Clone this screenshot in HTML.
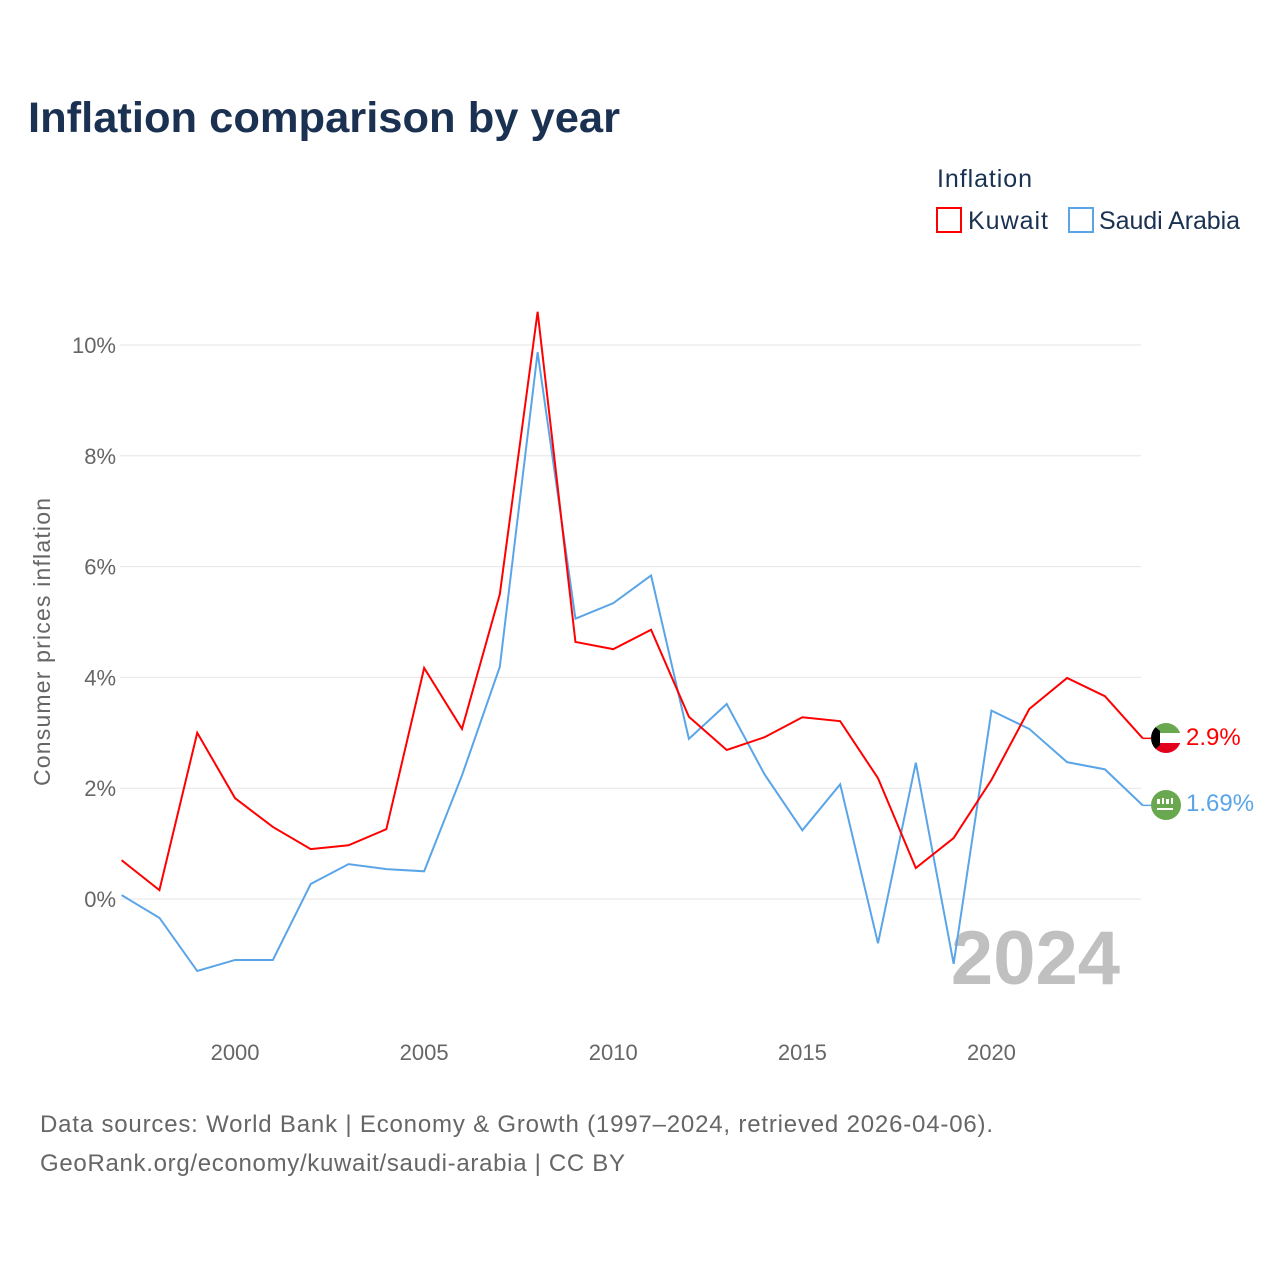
<!DOCTYPE html>
<html><head><meta charset="utf-8"><style>
body{margin:0;background:#fff;font-family:"Liberation Sans",sans-serif;}
svg text{font-family:"Liberation Sans",sans-serif;}
</style></head><body>
<svg id="chart" width="1280" height="1280" xmlns="http://www.w3.org/2000/svg">
<text x="28" y="132" font-size="43" font-weight="bold" fill="#1a3152" textLength="592" lengthAdjust="spacingAndGlyphs">Inflation comparison by year</text>
<text x="937" y="187" font-size="25" fill="#1a3152" textLength="95">Inflation</text>
<g><rect x="937" y="208" width="24" height="24" fill="none" stroke="#ff0000" stroke-width="2"/><text x="968" y="229" font-size="25" fill="#1a3152" textLength="80">Kuwait</text></g>
<g><rect x="1069" y="208" width="24" height="24" fill="none" stroke="#5aa5e8" stroke-width="2"/><text x="1099" y="229" font-size="25" fill="#1a3152" textLength="141">Saudi Arabia</text></g>
<g id="grid"></g>
<text transform="translate(50,642) rotate(-90)" text-anchor="middle" font-size="23" fill="#666" textLength="288">Consumer prices inflation</text>
<text x="1120" y="984" text-anchor="end" font-size="76" font-weight="bold" fill="#c0c0c0">2024</text>
<g id="series"></g>
<g>
<clipPath id="ck"><circle cx="1166" cy="738" r="15"/></clipPath>
<g clip-path="url(#ck)"><rect x="1151" y="723" width="30" height="10" fill="#6aa84f"/><rect x="1151" y="733" width="30" height="10" fill="#fff"/><rect x="1151" y="743" width="30" height="10" fill="#e3001b"/><polygon points="1151,723 1160,731 1160,745 1151,753" fill="#000"/></g></g>
<g><circle cx="1166" cy="805" r="15" fill="#6aa84f"/><rect x="1157" y="799" width="3" height="5" fill="#fff"/><rect x="1162" y="798" width="2" height="6" fill="#fff"/><rect x="1166" y="799" width="3" height="5" fill="#fff"/><rect x="1171" y="798" width="2" height="6" fill="#fff"/><rect x="1157" y="808" width="16" height="2" fill="#fff"/></g>
<text x="1186" y="745" font-size="24" fill="#ff0000">2.9%</text>
<text x="1186" y="811" font-size="24" fill="#5aa5e8">1.69%</text>
<text x="40" y="1132" font-size="24" fill="#666" textLength="953">Data sources: World Bank | Economy &amp; Growth (1997–2024, retrieved 2026-04-06).</text>
<text x="40" y="1171" font-size="24" fill="#666" textLength="585">GeoRank.org/economy/kuwait/saudi-arabia | CC BY</text>
</svg>
<script>
const years=[1997,1998,1999,2000,2001,2002,2003,2004,2005,2006,2007,2008,2009,2010,2011,2012,2013,2014,2015,2016,2017,2018,2019,2020,2021,2022,2023,2024];
const kuwait=[0.70,0.16,3.0,1.82,1.3,0.9,0.97,1.26,4.17,3.07,5.5,10.6,4.64,4.51,4.86,3.29,2.69,2.92,3.28,3.21,2.18,0.56,1.1,2.15,3.43,3.99,3.66,2.9];
const saudi=[0.07,-0.34,-1.3,-1.1,-1.1,0.27,0.63,0.54,0.5,2.23,4.19,9.87,5.06,5.34,5.84,2.89,3.52,2.25,1.24,2.07,-0.8,2.46,-1.17,3.4,3.07,2.47,2.34,1.69];
const yTicks=[0,2,4,6,8,10];
const xTicks=[2000,2005,2010,2015,2020];
const NS="http://www.w3.org/2000/svg";
const xs=y=>121.6+(y-1997)*37.82;
const ys=v=>899-v*55.4;
const grid=document.getElementById('grid'),series=document.getElementById('series');
yTicks.forEach(t=>{
 const l=document.createElementNS(NS,'line');
 
 
 l.setAttribute('x1',120);l.setAttribute('x2',1141);l.setAttribute('y1',ys(t));l.setAttribute('y2',ys(t));
 l.setAttribute('stroke','#e6e6e6');l.setAttribute('stroke-width','1');grid.appendChild(l);
 const tx=document.createElementNS(NS,'text');
 
 
 tx.setAttribute('x',116);tx.setAttribute('y',ys(t)+8);tx.setAttribute('text-anchor','end');
 tx.setAttribute('font-size','22');tx.setAttribute('fill','#666');tx.textContent=t+'%';grid.appendChild(tx);
});
xTicks.forEach(t=>{
 const tx=document.createElementNS(NS,'text');
 
 
 tx.setAttribute('x',xs(t));tx.setAttribute('y',1060);tx.setAttribute('text-anchor','middle');
 tx.setAttribute('font-size','22');tx.setAttribute('fill','#666');tx.textContent=t;grid.appendChild(tx);
});
function line(vals,color,name){
 const p=document.createElementNS(NS,'polyline');
 
 
 p.setAttribute('points',vals.map((v,i)=>xs(years[i])+','+ys(v)).join(' '));
 p.setAttribute('fill','none');p.setAttribute('stroke',color);p.setAttribute('stroke-width','2');
 series.appendChild(p);
 const last=vals[vals.length-1];
 const c=document.createElementNS(NS,'line');
 
 
 c.setAttribute('x1',xs(years[years.length-1]));c.setAttribute('x2',1151);c.setAttribute('y1',ys(last));c.setAttribute('y2',ys(last));
 c.setAttribute('stroke',color);c.setAttribute('stroke-width','1.5');series.appendChild(c);
}
line(saudi,'#5aa5e8','saudi-arabia-line');
line(kuwait,'#ff0000','kuwait-line');
</script>
</body></html>
